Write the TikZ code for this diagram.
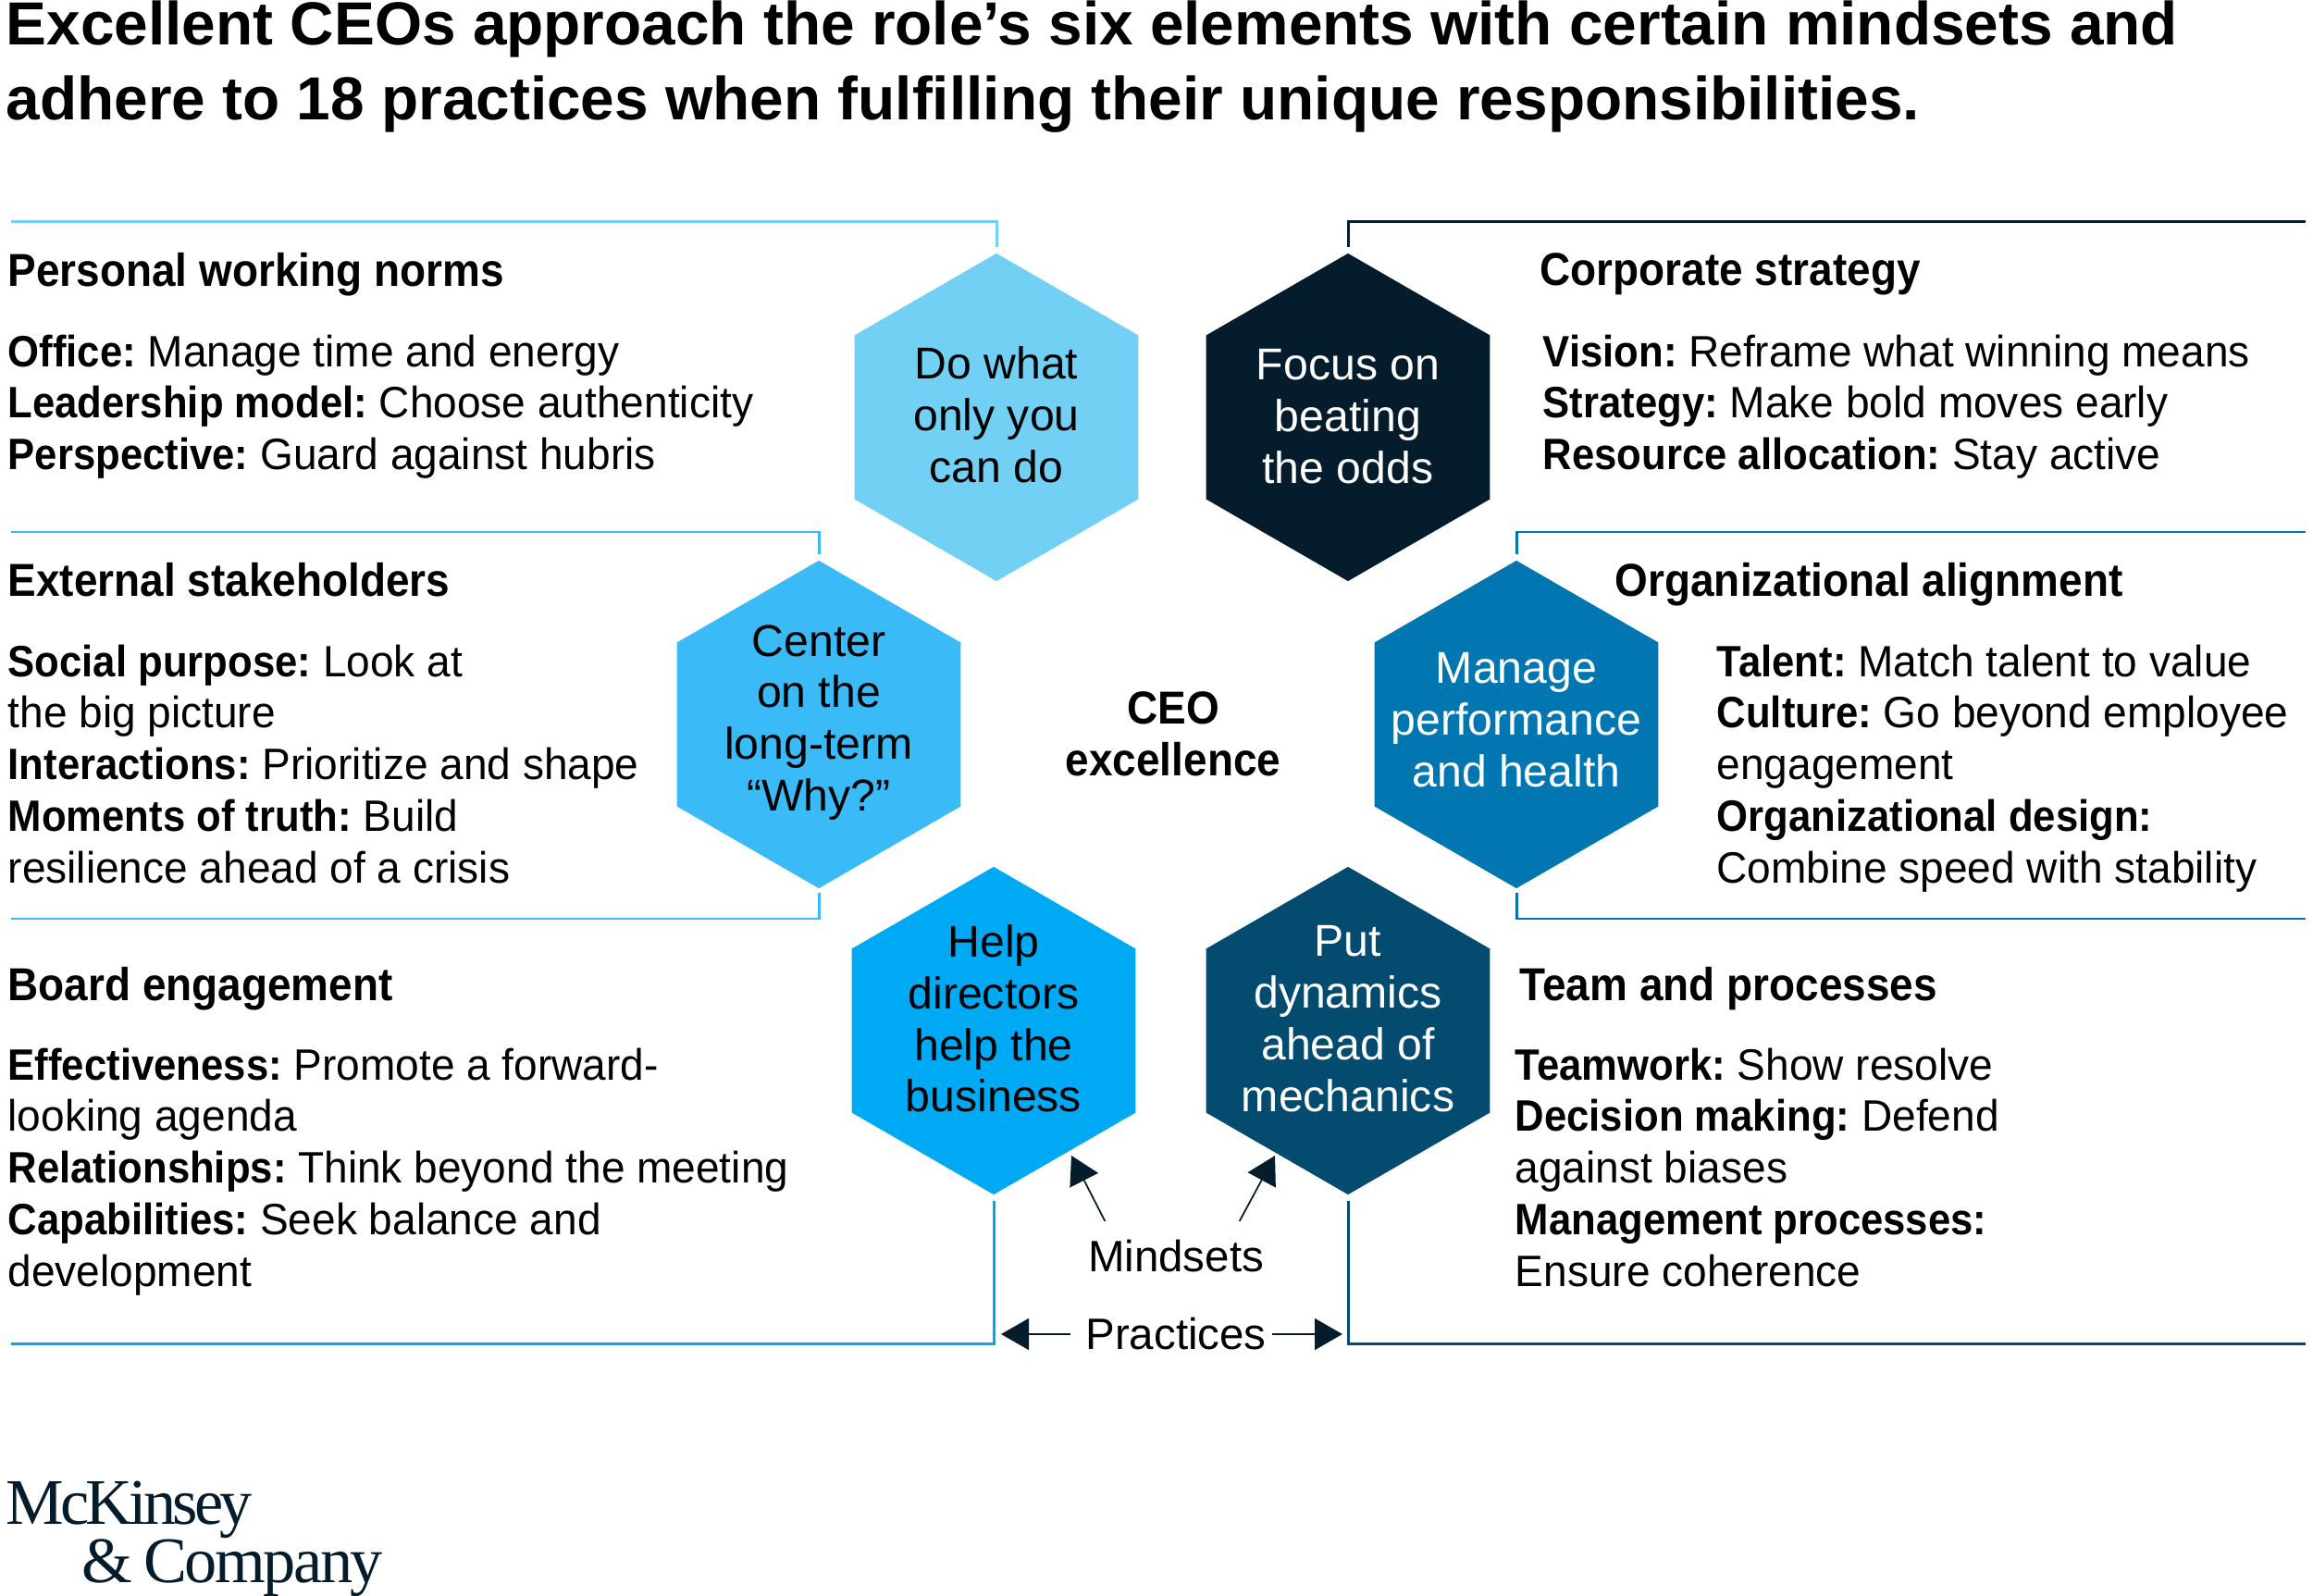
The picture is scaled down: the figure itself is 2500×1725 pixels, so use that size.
\documentclass[tikz,border=0pt]{standalone}
\usepackage{fontspec}
\setmainfont{Liberation Sans}
\newfontfamily\bodyfont[FakeStretch=0.97]{Liberation Sans}
\newfontfamily\keyfont[FakeStretch=0.92]{Liberation Sans}
\newfontfamily\logofont[LetterSpace=-3.5]{Liberation Serif}
\newfontfamily\logotopfont[LetterSpace=-5.5]{Liberation Serif}
\newcommand{\keyterm}[1]{{\keyfont\bfseries #1}}
\frenchspacing
\usetikzlibrary{positioning,arrows.meta,shapes.geometric}
\definecolor{hexsky}{HTML}{71D0F3}
\definecolor{hexnavy}{HTML}{051C2C}
\definecolor{hexazure}{HTML}{3ABAF6}
\definecolor{hexocean}{HTML}{0276B1}
\definecolor{hexcyan}{HTML}{00A9F4}
\definecolor{hexdeep}{HTML}{034B6F}
\begin{document}
\begin{tikzpicture}[
			x=0.01cm,y=-0.01cm,
			>={Triangle[length=3mm,width=3.4mm]},
			hexa/.style={regular polygon,regular polygon sides=6,shape border rotate=30,minimum size=3.54cm,inner sep=0pt},
			hextext/.style={align=center,inner sep=0pt,font=\fontsize{13.7pt}{15.87pt}\selectfont},
			heading/.style={anchor=north west,inner sep=0pt,font=\fontsize{14.2pt}{15.87pt}\keyfont\bfseries},
			body/.style={anchor=north west,inner sep=0pt,align=left,font=\fontsize{13.5pt}{15.87pt}\bodyfont},
			tag/.style={inner sep=0pt,font=\fontsize{13.5pt}{15.87pt}\selectfont},
			bracket/.style={line width=0.85pt},
			pointer/.style={draw=hexnavy,line width=0.5pt,->},
			]
			\useasboundingbox (0,0) rectangle (2500,1725);
			
			% Title
			\node[anchor=north west,inner sep=0pt,align=left,font=\fontsize{18.7pt}{23pt}\selectfont\bfseries] (title) at (6,0)
			{Excellent CEOs approach the role’s six elements with certain mindsets and\\adhere to 18 practices when fulfilling their unique responsibilities.};
			
			% Hexagons
			\node[hexa,fill=hexsky] (doOnly) at (1077,451) {};
			\node[hexa,fill=hexnavy] (focusOdds) at (1457,451) {};
			\node[hexa,fill=hexazure] (centerWhy) at (885,783) {};
			\node[hexa,fill=hexocean] (managePerf) at (1639,783) {};
			\node[hexa,fill=hexcyan] (helpDir) at (1074,1114) {};
			\node[hexa,fill=hexdeep] (putDyn) at (1457,1114) {};
			
			% Hexagon texts
			\node[hextext] (doOnlyText) at (1077,448) {Do what\\only you\\can do};
			\node[hextext,text=white] (focusText) at (1457,450) {Focus on\\beating\\the odds};
			\node[hextext] (centerText) at (885,781) {Center\\on the\\long-term\\“Why?”};
			\node[hextext,text=white] (manageText) at (1639,778) {Manage\\performance\\and health};
			\node[hextext] (helpText) at (1074,1101) {Help\\directors\\help the\\business};
			\node[hextext,text=white] (putText) at (1457,1101) {Put\\dynamics\\ahead of\\mechanics};
			\node[font=\fontsize{14.2pt}{15.87pt}\keyfont\bfseries,align=center,inner sep=0pt] (ceo) at (1268,793) {CEO\\excellence};
			
			% Left blocks
			\node[heading] (normsHead) at (8,273) {Personal working norms};
			\node[body] (normsBody) at (8,361)
			{\keyterm{Office:} Manage time and energy\\\keyterm{Leadership model:} Choose authenticity\\\keyterm{Perspective:} Guard against hubris};
			\node[heading] (stakeHead) at (8,608) {External stakeholders};
			\node[body] (stakeBody) at (8,696)
			{\keyterm{Social purpose:} Look at\\the big picture\\\keyterm{Interactions:} Prioritize and shape\\\keyterm{Moments of truth:} Build\\resilience ahead of a crisis};
			\node[heading] (boardHead) at (8,1045) {Board engagement};
			\node[body] (boardBody) at (8,1132)
			{\keyterm{Effectiveness:} Promote a forward-\\looking agenda\\\keyterm{Relationships:} Think beyond the meeting\\\keyterm{Capabilities:} Seek balance and\\development};
			
			% Right blocks
			\node[heading] (stratHead) at (1664,273) {Corporate strategy};
			\node[body] (stratBody) at (1667,361)
			{\keyterm{Vision:} Reframe what winning means\\\keyterm{Strategy:} Make bold moves early\\\keyterm{Resource allocation:} Stay active};
			\node[heading] (alignHead) at (1745,608) {Organizational alignment};
			\node[body] (alignBody) at (1855,696)
			{\keyterm{Talent:} Match talent to value\\\keyterm{Culture:} Go beyond employee\\engagement\\\keyterm{Organizational design:}\\Combine speed with stability};
			\node[heading] (teamHead) at (1642,1045) {Team and processes};
			\node[body] (teamBody) at (1637,1132)
			{\keyterm{Teamwork:} Show resolve\\\keyterm{Decision making:} Defend\\against biases\\\keyterm{Management processes:}\\Ensure coherence};
			
			% Bracket ends
			\coordinate (normsEnd) at (12,240);
			\coordinate (stratEnd) at (2492,240);
			\coordinate (stakeTop) at (12,575);
			\coordinate (alignTop) at (2492,575);
			\coordinate (stakeLow) at (12,993);
			\coordinate (alignLow) at (2492,993);
			\coordinate (boardEnd) at (12,1452);
			\coordinate (teamEnd) at (2492,1452);
			
			% Brackets
			\draw[bracket,hexsky] ([yshift=0.06cm]doOnly.north) |- (normsEnd);
			\draw[bracket,hexnavy] ([yshift=0.06cm]focusOdds.north) |- (stratEnd);
			\draw[bracket,hexazure] ([yshift=0.06cm]centerWhy.north) |- (stakeTop);
			\draw[bracket,hexocean] ([yshift=0.06cm]managePerf.north) |- (alignTop);
			\draw[bracket,hexazure] ([yshift=-0.04cm]centerWhy.south) |- (stakeLow);
			\draw[bracket,hexocean] ([yshift=-0.04cm]managePerf.south) |- (alignLow);
			\draw[bracket,hexcyan] ([yshift=-0.06cm]helpDir.south) |- (boardEnd);
			\draw[bracket,hexdeep] ([yshift=-0.06cm]putDyn.south) |- (teamEnd);
			
			% Mindsets and practices
			\node[tag] (mindsets) at (1271,1358) {Mindsets};
			\node[tag] (practices) at (1271,1442) {Practices};
			\coordinate (mindLeft) at (1158,1249);
			\coordinate (mindRight) at (1378,1249);
			\coordinate (pracLeft) at (1082,1442);
			\coordinate (pracRight) at (1451,1442);
			\draw[pointer] ([xshift=0.19cm,yshift=0.2cm]mindsets.north west) -- (mindLeft);
			\draw[pointer] ([xshift=-0.27cm,yshift=0.2cm]mindsets.north east) -- (mindRight);
			\draw[pointer,shorten <=0.16cm] (practices.west) -- (pracLeft);
			\draw[pointer,shorten <=0.06cm] (practices.east) -- (pracRight);
			
			% Logo
			\node[anchor=north west,inner sep=0pt,text=hexnavy,font=\fontsize{20pt}{24pt}\logotopfont] (logoTop) at (6,1600) {McKinsey};
			\node[anchor=north west,inner sep=0pt,text=hexnavy,font=\fontsize{20pt}{24pt}\logofont] (logoLow) at (88,1663) {\&\,Company};
			
		\end{tikzpicture}
\end{document}
